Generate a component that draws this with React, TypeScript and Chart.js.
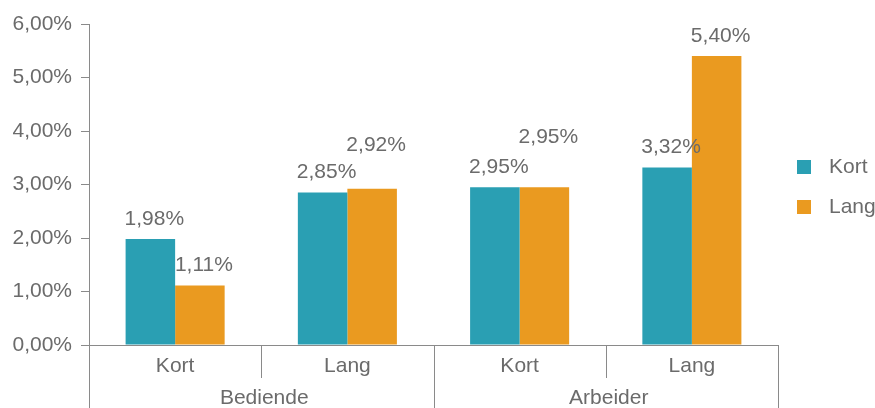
import React, { useEffect, useRef } from 'react';
import { Chart, registerables } from 'chart.js';

Chart.register(...registerables);

// ---- data ----
const CATEGORIES = ['Kort', 'Lang', 'Kort', 'Lang'];
const GROUPS = ['Bediende', 'Arbeider'];
const SERIES_NAMES = ['Kort', 'Lang'];
const KORT = [1.98, 2.85, 2.95, 3.32];
const LANG = [1.11, 2.92, 2.95, 5.4];
const Y_MIN = 0;
const Y_MAX = 6;
const Y_STEP = 1;

// ---- style ----
const COLORS = ['#2a9fb3', '#ea9a20'];
const TEXT = '#6b6b6b';
const LINE = '#8a8a8a';
const FONT_FAMILY = 'Helvetica, "Liberation Sans", Arial, sans-serif';
const FONT_SIZE = 21;
// extra lift of value labels (per series, per category) to avoid overlaps
const EXTRA_LIFT = [
  [0, 0, 0, 0],
  [0, 24, 30, 0],
];

const fmt = (v: number) => v.toFixed(2).replace('.', ',') + '%';

export default function App() {
  const ref = useRef<HTMLCanvasElement>(null);

  useEffect(() => {
    const canvas = ref.current!;
    const font = `${FONT_SIZE}px ${FONT_FAMILY}`;

    const valueLabels = {
      id: 'valueLabels',
      afterDatasetsDraw(chart: any) {
        const ctx = chart.ctx;
        ctx.save();
        ctx.font = font;
        ctx.fillStyle = TEXT;
        ctx.textAlign = 'center';
        ctx.textBaseline = 'middle';
        chart.data.datasets.forEach((ds: any, di: number) => {
          const meta = chart.getDatasetMeta(di);
          meta.data.forEach((bar: any, i: number) => {
            const lift = 20 + (EXTRA_LIFT[di]?.[i] ?? 0);
            ctx.fillText(fmt(ds.data[i]), bar.x + 4, bar.y - lift);
          });
        });
        ctx.restore();
      },
    };

    const axisDecor = {
      id: 'axisDecor',
      afterDraw(chart: any) {
        const ctx = chart.ctx;
        const x = chart.scales.x;
        const area = chart.chartArea;
        const n = CATEGORIES.length;
        const half = (x.getPixelForValue(1) - x.getPixelForValue(0)) / 2;
        const bottom = area.bottom;
        const H = chart.height;
        ctx.save();
        ctx.strokeStyle = LINE;
        ctx.lineWidth = 1;
        const perGroup = n / GROUPS.length;
        for (let i = 0; i <= n; i++) {
          const px = Math.round(i < n ? x.getPixelForValue(i) - half : x.getPixelForValue(n - 1) + half) + 0.5;
          const isGroupEdge = i % perGroup === 0;
          ctx.beginPath();
          ctx.moveTo(px, bottom);
          ctx.lineTo(px, isGroupEdge ? H : bottom + 33);
          ctx.stroke();
        }
        ctx.font = font;
        ctx.fillStyle = TEXT;
        ctx.textAlign = 'center';
        ctx.textBaseline = 'middle';
        GROUPS.forEach((g, gi) => {
          const l = x.getPixelForValue(gi * perGroup) - half;
          const r = x.getPixelForValue(gi * perGroup + perGroup - 1) + half;
          ctx.fillText(g, (l + r) / 2 + 3, bottom + 53);
        });
        // legend
        chart.data.datasets.forEach((ds: any, di: number) => {
          const cy = 167 + di * 40;
          const lx = area.right + 19;
          ctx.fillStyle = ds.backgroundColor;
          ctx.fillRect(lx, cy - 7, 14, 14);
          ctx.fillStyle = TEXT;
          ctx.textAlign = 'left';
          ctx.fillText(ds.label, lx + 32, cy);
        });
        ctx.restore();
      },
    };

    const chart = new Chart(canvas, {
      type: 'bar',
      data: {
        labels: CATEGORIES,
        datasets: [
          { label: SERIES_NAMES[0], data: KORT, backgroundColor: COLORS[0], borderWidth: 0 },
          { label: SERIES_NAMES[1], data: LANG, backgroundColor: COLORS[1], borderWidth: 0 },
        ],
      },
      options: {
        responsive: false,
        animation: false,
        devicePixelRatio: 1,
        layout: { padding: { top: 24, right: 97, bottom: 0, left: 0 } },
        datasets: { bar: { categoryPercentage: 0.575, barPercentage: 1.0 } },
        plugins: {
          legend: { display: false },
          tooltip: { enabled: false },
        },
        scales: {
          x: {
            grid: { display: false },
            border: { display: true, color: LINE, width: 1 },
            ticks: {
              color: TEXT,
              font: { size: FONT_SIZE, family: FONT_FAMILY },
              padding: 1,
              maxRotation: 0,
            },
            afterFit(scale: any) {
              scale.height = 63;
            },
          },
          y: {
            min: Y_MIN,
            max: Y_MAX,
            grid: { display: true, drawOnChartArea: false, drawTicks: true, tickLength: 8, color: LINE },
            border: { display: true, color: LINE, width: 1 },
            ticks: {
              stepSize: Y_STEP,
              color: TEXT,
              font: { size: FONT_SIZE, family: FONT_FAMILY },
              padding: 9,
              callback: (v: any) => fmt(Number(v)),
            },
            afterFit(scale: any) {
              scale.width = 89;
            },
          },
        },
      },
      plugins: [valueLabels, axisDecor],
    });

    return () => chart.destroy();
  }, []);

  return (
    <div style={{ position: 'absolute', left: 0, top: 0, width: 875, height: 408 }}>
      <canvas ref={ref} width={875} height={408} />
    </div>
  );
}
